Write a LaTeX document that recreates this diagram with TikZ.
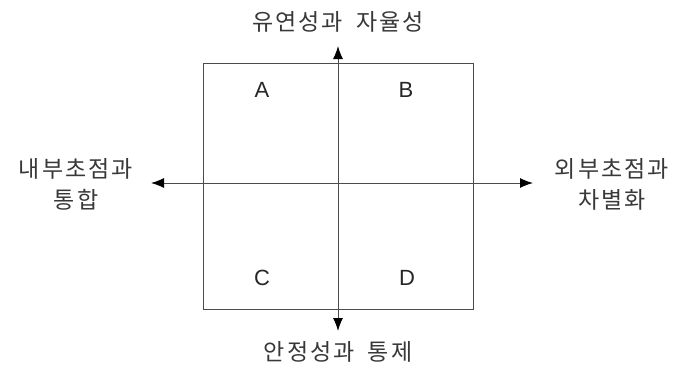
\documentclass[tikz,border=0pt]{standalone}
\usepackage{fontspec}
\setmainfont{Liberation Sans}
\newfontfamily\kor[LetterSpace=9]{Noto Sans CJK KR}
\usetikzlibrary{arrows.meta}
\tikzstyle{axislabel} = [font=\kor\fontsize{23}{31}\selectfont, text=black!78, align=center, inner sep=0pt]
\tikzstyle{quad} = [font=\fontsize{22}{26}\selectfont, text=black!85, inner sep=0pt]
\tikzstyle{frame} = [draw=black!70, line width=1pt]
\tikzstyle{line} = [draw=black!70, line width=1pt,
    {Latex[length=13pt,width=10pt,color=black]}-{Latex[length=13pt,width=10pt,color=black]}]

\begin{document}
\begin{tikzpicture}[x=1pt, y=-1pt]
    \useasboundingbox (0,0) rectangle (695,364);
    % Place nodes
    \draw [frame] (203,63) rectangle (473,309);
    \coordinate (up) at (338,46);
    \coordinate (down) at (338,331);
    \coordinate (left) at (151,183);
    \coordinate (right) at (533,183);
    \node [axislabel] (flex) at (338,22) {유연성과\hspace{6pt} 자율성};
    \node [axislabel] (stable) at (338,352) {안정성과\hspace{6pt} 통제};
    \node [axislabel] (internal) at (76,184) {내부초점과\\통합};
    \node [axislabel] (external) at (612,184) {외부초점과\\차별화};
    \node [quad] (qa) at (262,90) {A};
    \node [quad] (qb) at (406,90) {B};
    \node [quad] (qc) at (262,278) {C};
    \node [quad] (qd) at (407,278) {D};
    % Draw edges
    \path [line] (down) -- (up);
    \path [line] (left) -- (right);
\end{tikzpicture}
\end{document}
